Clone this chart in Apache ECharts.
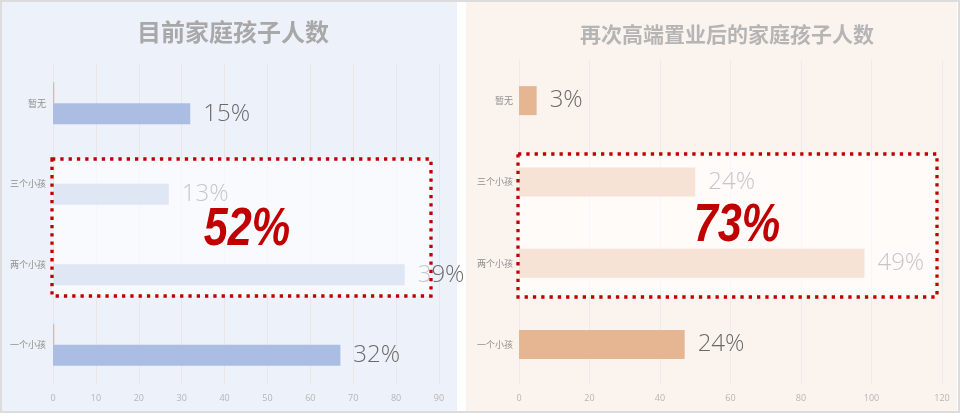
<!DOCTYPE html>
<html>
<head>
<meta charset="utf-8">
<script src="https://cdn.jsdelivr.net/npm/echarts@6/dist/echarts.min.js"></script>
<style>
html,body{margin:0;padding:0;background:#fff;}
#wrap{position:relative;width:960px;height:418px;overflow:hidden;background:#fff;}
#frame{position:absolute;left:0;top:0;width:960px;height:413px;box-sizing:border-box;border:2px solid #dcdcdc;}
#panelL{position:absolute;left:2px;top:2px;width:455px;height:409px;background:#edf1f9;}
#panelR{position:absolute;left:466px;top:2px;width:491px;height:409px;background:#fbf3ee;}
#chart{position:absolute;left:0;top:0;width:960px;height:418px;}
</style>
</head>
<body>
<div id="wrap">
  <div id="frame"></div>
  <div id="panelL"></div>
  <div id="panelR"></div>
  <div id="chart"></div>
</div>
<script>
// categories listed bottom -> top
const categories = ['一个小孩', '两个小孩', '三个小孩', '暂无'];
const leftValues = [67, 82, 27, 32];
const leftMarker = [0.3, 0.3, 0.3, 0.3];
const leftLabels = ['32%', '39%', '13%', '15%'];
const rightValues = [47, 98, 50, 5];
const rightLabels = ['24%', '49%', '24%', '3%'];
const leftAxisMax = 90, leftAxisStep = 10;
const rightAxisMax = 120, rightAxisStep = 20;
const titles = ['目前家庭孩子人数', '再次高端置业后的家庭孩子人数'];
const highlights = ['52%', '73%'];

const chart = echarts.init(document.getElementById('chart'), null, {renderer: 'canvas'});

const pctLabel = (arr) => ({
  show: true,
  position: 'right',
  distance: 13,
  formatter: p => arr[p.dataIndex],
  fontSize: 24,
  fontFamily: '"Open Sans", "Noto Sans", sans-serif',
  fontWeight: 300,
  color: '#6a6a6a'
});

const xAxisBase = (max, step, gridIndex, gridColor) => ({
  type: 'value', gridIndex, min: 0, max, interval: step,
  axisLine: {show: false}, axisTick: {show: false},
  splitLine: {show: true, lineStyle: {color: gridColor, width: 1}},
  axisLabel: {color: '#b5b5b5', fontSize: 9, margin: 9, fontFamily: '"Open Sans", sans-serif'}
});
const yAxisBase = (gridIndex, margin) => ({
  type: 'category', gridIndex, data: categories,
  axisLine: {show: false}, axisTick: {show: false},
  axisLabel: {color: '#8f8f8f', fontSize: 9, margin, fontFamily: '"Noto Sans CJK SC", sans-serif'}
});

const bigText = (x, y, text) => ({
  type: 'text', x, y, scaleX: 0.8, z: 101,
  style: {
    text, fill: '#c00000',
    fontSize: 54, fontWeight: 'bold', fontStyle: 'italic',
    fontFamily: '"Liberation Sans", Arial, sans-serif',
    align: 'center', verticalAlign: 'middle'
  }
});
const box = (x, y, w, h) => ({
  type: 'rect', z: 100,
  shape: {x, y, width: w, height: h},
  style: {fill: 'rgba(255,255,255,0.62)', stroke: '#c00000', lineWidth: 3.3, lineDash: [3.3, 5]}
});

chart.setOption({
  backgroundColor: 'transparent',
  animation: false,
  title: [
    {text: titles[0], left: 228, top: 14, textAlign: 'center',
     textStyle: {fontSize: 24, fontWeight: 'bold', color: '#a8a8a8', fontFamily: '"Noto Sans CJK SC", sans-serif', lineHeight: 26}},
    {text: titles[1], left: 722, top: 18, textAlign: 'center',
     textStyle: {fontSize: 21, fontWeight: 'bold', color: '#b5b5b5', fontFamily: '"Noto Sans CJK SC", sans-serif', lineHeight: 23}}
  ],
  grid: [
    {left: 53, top: 63, width: 386, height: 322},
    {left: 519, top: 60, width: 423, height: 325}
  ],
  xAxis: [
    xAxisBase(leftAxisMax, leftAxisStep, 0, '#e8e6e8'),
    xAxisBase(rightAxisMax, rightAxisStep, 1, '#ebebef')
  ],
  yAxis: [yAxisBase(0, 7), yAxisBase(1, 6)],
  series: [
    {type: 'bar', xAxisIndex: 0, yAxisIndex: 0, data: leftMarker, barWidth: 21, barGap: '0%',
     itemStyle: {color: '#f4b183'}, silent: true},
    {type: 'bar', xAxisIndex: 0, yAxisIndex: 0, data: leftValues, barWidth: 21, barGap: '0%',
     itemStyle: {color: '#abbde3'}, label: pctLabel(leftLabels)},
    {type: 'bar', xAxisIndex: 1, yAxisIndex: 1, data: rightValues, barWidth: 29,
     itemStyle: {color: '#e6b592'}, label: pctLabel(rightLabels)}
  ],
  graphic: [
    box(52, 159, 379, 137),
    box(518, 154, 419, 143),
    bigText(247, 230, highlights[0]),
    bigText(737, 226, highlights[1])
  ]
});
</script>
</body>
</html>
